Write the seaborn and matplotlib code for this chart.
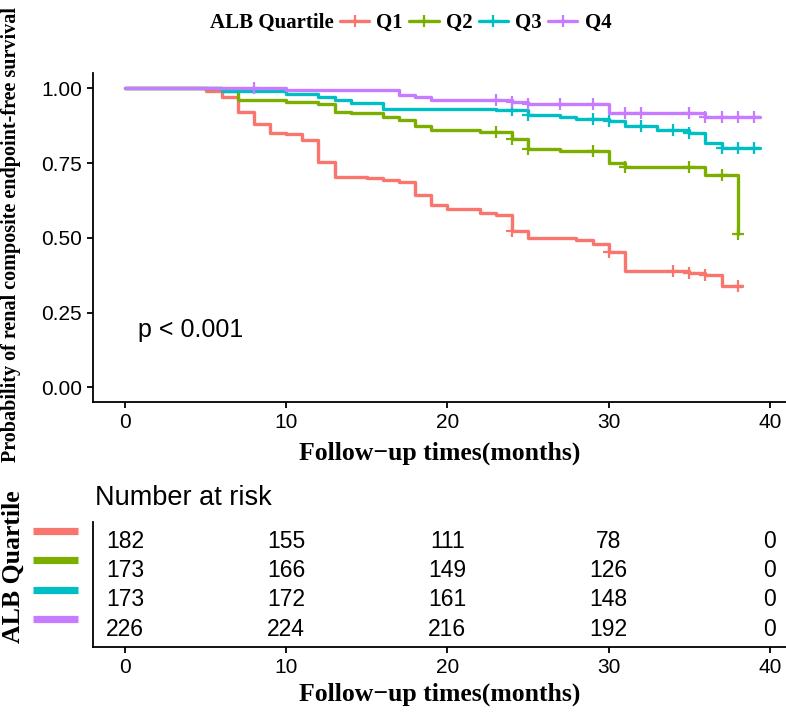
import numpy as np
import pandas as pd
import matplotlib
matplotlib.use("Agg")
import matplotlib.pyplot as plt
import matplotlib.transforms as mtransforms
from matplotlib.lines import Line2D
import seaborn as sns

# ---------------------------------------------
# DATA
# ---------------------------------------------
GRUPOS = ["Q1", "Q2", "Q3", "Q4"]
COLORES = ["#F8766D", "#7CAE00", "#00BFC4", "#C77CFF"]

q1_time = [0, 5, 6, 7, 8, 9, 10, 11, 12, 13, 15, 16, 17, 18, 19, 20, 22, 23, 24, 25, 28, 29, 30, 31, 35, 36, 37, 38.3]
q1_surv = [1.0, 0.99, 0.972, 0.921, 0.882, 0.851, 0.846, 0.827, 0.754, 0.704, 0.699, 0.693, 0.688, 0.643, 0.61,
           0.596, 0.584, 0.577, 0.523, 0.499, 0.493, 0.48, 0.454, 0.388, 0.381, 0.375, 0.34, 0.34]
q1_cens = [24, 30, 34, 35, 36, 38]

q2_time = [0, 6, 7, 10, 12, 13, 14, 16, 17, 18, 19, 22, 24, 25, 27, 30, 31, 36, 38]
q2_surv = [1.0, 0.99, 0.96, 0.954, 0.949, 0.921, 0.916, 0.904, 0.893, 0.873, 0.862, 0.854, 0.83, 0.796, 0.792,
           0.749, 0.738, 0.709, 0.512]
q2_cens = [23, 24, 25, 29, 31, 35, 37, 38]

q3_time = [0, 6, 10, 12, 13, 14, 16, 23, 25, 27, 28, 30, 31, 33, 35, 36, 37, 39.4]
q3_surv = [1.0, 0.991, 0.982, 0.971, 0.962, 0.952, 0.932, 0.927, 0.91, 0.904, 0.899, 0.891, 0.873, 0.86, 0.849,
           0.816, 0.799, 0.799]
q3_cens = [24, 25, 29, 30, 32, 34, 35, 37, 38, 39]

q4_time = [0, 10, 17, 18, 19, 24, 25, 30, 36, 39.4]
q4_surv = [1.0, 0.993, 0.977, 0.971, 0.962, 0.954, 0.946, 0.916, 0.905, 0.905]
q4_cens = [8, 23, 24, 25, 27, 29, 31, 32, 35, 36, 37, 38, 39]

riesgo_tiempos = [0, 10, 20, 30, 40]
riesgo_q1 = [182, 155, 111, 78, 0]
riesgo_q2 = [173, 166, 149, 126, 0]
riesgo_q3 = [173, 172, 161, 148, 0]
riesgo_q4 = [226, 224, 216, 192, 0]

P_TEXTO = "p < 0.001"
XLAB = "Follow\u2212up times(months)"
YLAB = "Probability of renal composite endpoint-free survival"

tiempos = [q1_time, q2_time, q3_time, q4_time]
supervs = [q1_surv, q2_surv, q3_surv, q4_surv]
censuras = [q1_cens, q2_cens, q3_cens, q4_cens]
riesgos = [riesgo_q1, riesgo_q2, riesgo_q3, riesgo_q4]

# ---------------------------------------------
# STYLE
# ---------------------------------------------
sns.set_style("white")
plt.rcParams["font.family"] = ["Liberation Sans", "DejaVu Sans"]
plt.rcParams["text.color"] = "black"
plt.rcParams["axes.labelcolor"] = "black"
plt.rcParams["xtick.color"] = "black"
plt.rcParams["ytick.color"] = "black"
SERIF = ["Liberation Serif", "DejaVu Serif"]
LW_SPINE = 1.3

df_curvas = pd.concat(
    [pd.DataFrame({"tiempo": t, "surv": s, "grupo": g}) for t, s, g in zip(tiempos, supervs, GRUPOS)],
    ignore_index=True)

fig = plt.figure(figsize=(7.86, 7.15), dpi=100)
ax = fig.add_axes([0.1187, 0.4374, 0.8813, 0.46])
ax_t = fig.add_axes([0.1187, 0.0955, 0.8813, 0.1748])

# ---------------------------------------------
# KM CURVES
# ---------------------------------------------
sns.lineplot(data=df_curvas, x="tiempo", y="surv", hue="grupo", hue_order=GRUPOS,
             palette=COLORES, drawstyle="steps-post", estimator=None, sort=False,
             linewidth=2.4, legend=False, ax=ax)

for t, s, c, col in zip(tiempos, supervs, censuras, COLORES):
    idx = np.searchsorted(t, c, side="right") - 1
    yc = np.array(s)[idx]
    ax.plot(c, yc, linestyle="none", marker="+", markersize=8, markeredgewidth=1.6, color=col)

ax.set_xlim(-1.96, 41.0)
ax.set_ylim(-0.05, 1.05)
ax.set_xticks(riesgo_tiempos)
ax.set_yticks([0, 0.25, 0.5, 0.75, 1.0])
ax.set_yticklabels(["0.00", "0.25", "0.50", "0.75", "1.00"])
ax.set_xlabel("")
ax.set_ylabel("")
ax.text(0.82, 0.19, P_TEXTO, fontsize=18, ha="left", va="center")

for a in (ax, ax_t):
    for lado in ["top", "right"]:
        a.spines[lado].set_visible(False)
    for lado in ["left", "bottom"]:
        a.spines[lado].set_linewidth(LW_SPINE)
        a.spines[lado].set_color("black")
    a.tick_params(axis="both", direction="out", length=4.5, width=LW_SPINE, color="black",
                  labelsize=15, labelcolor="black", pad=3.5, left=True, bottom=True)

# ---------------------------------------------
# RISK TABLE
# ---------------------------------------------
filas = [4, 3, 2, 1]
for fila, valores in zip(filas, riesgos):
    for t, v in zip(riesgo_tiempos, valores):
        ax_t.text(t, fila, str(v), ha="center", va="center", fontsize=16.5)

ax_t.set_xlim(-1.96, 41.0)
ax_t.set_ylim(0.41, 4.66)
ax_t.set_xticks(riesgo_tiempos)
ax_t.set_yticks([])
ax_t.set_xlabel("")
ax_t.set_ylabel("")

trans = mtransforms.blended_transform_factory(ax_t.transAxes, ax_t.transData)
for fila, col in zip(filas, COLORES):
    ax_t.add_line(Line2D([-0.087, -0.022], [fila + 0.35, fila + 0.35], transform=trans,
                         color=col, linewidth=5.2, solid_capstyle="butt", clip_on=False))

# ---------------------------------------------
# TEXTS
# ---------------------------------------------
W, H = 786, 715
fig.text(11 / W, 1 - 234 / H, YLAB, rotation=90, ha="center", va="center",
         family=SERIF, fontweight="bold", fontsize=14.5)
fig.text(439.7 / W, 1 - 453 / H, XLAB, ha="center", va="center",
         family=SERIF, fontweight="bold", fontsize=18.5)
fig.text(439.7 / W, 1 - 694 / H, XLAB, ha="center", va="center",
         family=SERIF, fontweight="bold", fontsize=18.5)
fig.text(13 / W, 1 - 567 / H, "ALB Quartile", rotation=90, ha="center", va="center",
         family=SERIF, fontweight="bold", fontsize=18.5)
fig.text(95 / W, 1 - 498 / H, "Number at risk", ha="left", va="center", fontsize=19.5)

# legend on top
fig.text(210 / W, 1 - 23 / H, "ALB Quartile", ha="left", va="center",
         family=SERIF, fontweight="bold", fontsize=15)
handles = [Line2D([], [], color=col, linewidth=2.4, marker="+", markersize=8,
                  markeredgewidth=1.6) for col in COLORES]
fig.legend(handles, GRUPOS, loc="center left", bbox_to_anchor=(340 / W, 1 - 23 / H),
           ncol=4, frameon=False, handlelength=1.4, handletextpad=0.35, columnspacing=0.3,
           borderaxespad=0, borderpad=0,
           prop={"family": SERIF, "weight": "bold", "size": 15})

plt.savefig("out.png", dpi=100)
